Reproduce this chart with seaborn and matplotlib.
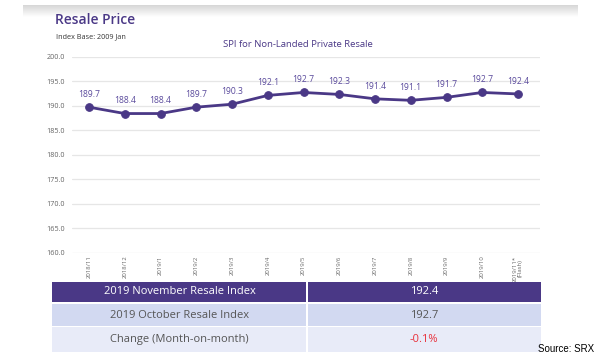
import numpy as np
import pandas as pd
import matplotlib
matplotlib.use("Agg")
import matplotlib.pyplot as plt
import seaborn as sns
from matplotlib.patches import Rectangle

months = ["2018/11", "2018/12", "2019/1", "2019/2", "2019/3", "2019/4", "2019/5",
          "2019/6", "2019/7", "2019/8", "2019/9", "2019/10", "2019/11*\n(Flash)"]
values = [189.7, 188.4, 188.4, 189.7, 190.3, 192.1, 192.7, 192.3, 191.4, 191.1, 191.7, 192.7, 192.4]
y_ticks = [160.0, 165.0, 170.0, 175.0, 180.0, 185.0, 190.0, 195.0, 200.0]
table_labels = ["2019 November Resale Index", "2019 October Resale Index", "Change (Month-on-month)"]
table_values = ["192.4", "192.7", "-0.1%"]

sns.set_style("white")
plt.rcParams['font.family'] = ['Open Sans', 'DejaVu Sans']

PURPLE = "#4a3886"
W, H = 599, 360
fig = plt.figure(figsize=(W / 100, H / 100), dpi=100)
fig.patch.set_facecolor("white")

def fx(px):
    return px / W

def fy(py):
    return 1 - py / H

# top gradient band
band = fig.add_axes([fx(23), fy(17), fx(578 - 23), (17 - 5) / H])
grad = np.linspace(0.84, 1.0, 50).reshape(-1, 1)
band.imshow(np.dstack([grad, grad, grad]), aspect="auto", extent=[0, 1, 0, 1])
band.axis("off")

df = pd.DataFrame({"idx": np.arange(len(values)), "value": values})

ax = fig.add_axes([fx(72), fy(252.7), fx(540 - 72), (252.7 - 56.7) / H])
sns.lineplot(data=df, x="idx", y="value", ax=ax, color=PURPLE, linewidth=2.0,
             marker="o", markersize=5.5, markeredgecolor=PURPLE, zorder=3)
ax.set_ylim(160, 200)
ax.set_xlim(-0.476, len(values) - 1 + 0.615)
ax.set_yticks(y_ticks)
ax.set_yticklabels([f"{v:.1f}" for v in y_ticks], fontsize=5.2, color="#666666")
ax.set_xticks(df["idx"])
ax.set_xticklabels(months, rotation=90, fontsize=4.3, color="#666666", va="top",
                   linespacing=0.95)
ax.tick_params(axis="x", length=0, pad=2)
ax.tick_params(axis="y", length=0, pad=5)
ax.grid(axis="y", color="#e6e6e6", linewidth=0.9)
ax.grid(axis="x", visible=False)
for s in ax.spines.values():
    s.set_visible(False)
ax.set_xlabel("")
ax.set_ylabel("")
for i, v in enumerate(values):
    ax.annotate(f"{v:.1f}", (i, v), xytext=(0, 6), textcoords="offset points",
                ha="center", va="bottom", fontsize=6.2, color="#5a4a9c")

# titles
fig.text(fx(55), fy(20), "Resale Price", fontsize=10, color=PURPLE,
         fontweight="semibold", ha="left", va="center")
fig.text(fx(56), fy(37), "Index Base: 2009 Jan", fontsize=5.2, color="#333333",
         ha="left", va="center")
fig.text(fx(298), fy(44.5), "SPI for Non-Landed Private Resale", fontsize=6.8,
         color=PURPLE, ha="center", va="center")

# table
rows = [(281.7, 301.7, PURPLE, "white", "white"),
        (304.3, 325.7, "#d2d9f1", "#555555", "#555555"),
        (327.3, 351.7, "#e8ebf8", "#555555", "#e8303a")]
x0, xm, x1 = 52, 307, 541
for (top, bot, bg, c1, c2), lab, val in zip(rows, table_labels, table_values):
    fig.patches.append(Rectangle((fx(x0), fy(bot)), fx(xm - 1 - x0), (bot - top) / H,
                                 transform=fig.transFigure, facecolor=bg,
                                 edgecolor="none"))
    fig.patches.append(Rectangle((fx(xm + 1), fy(bot)), fx(x1 - xm - 1), (bot - top) / H,
                                 transform=fig.transFigure, facecolor=bg,
                                 edgecolor="none"))
    yc = fy((top + bot) / 2)
    fig.text(fx((x0 + xm) / 2), yc, lab, fontsize=8, color=c1,
             ha="center", va="center")
    fig.text(fx((xm + x1) / 2), yc, val, fontsize=8, color=c2,
             ha="center", va="center")

fig.text(fx(538), fy(349), "Source: SRX", fontsize=7, color="black",
         family=["Liberation Sans", "DejaVu Sans"], ha="left", va="center")

fig.savefig("out.png", dpi=100, facecolor="white")
